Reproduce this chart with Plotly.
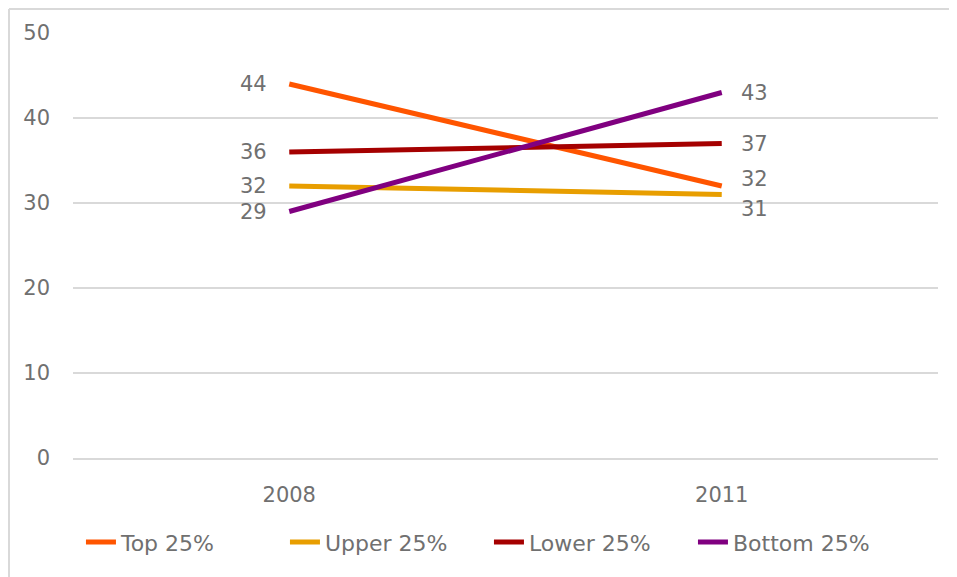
import plotly.graph_objects as go

years = ["2008", "2011"]
series_names = ["Top 25%", "Upper 25%", "Lower 25%", "Bottom 25%"]
top_vals = [44, 32]
upper_vals = [32, 31]
lower_vals = [36, 37]
bottom_vals = [29, 43]
y_ticks = [0, 10, 20, 30, 40, 50]

colors = ["#FF5500", "#E89E00", "#A50000", "#800080"]
all_vals = [top_vals, upper_vals, lower_vals, bottom_vals]
# label vertical nudges (px) at 2011 to avoid overlap
shift_2011 = [7, -14, 0, 0]

FONT = "DejaVu Sans"
GREY = "#707070"

fig = go.Figure()
for name, vals, col in zip(series_names, all_vals, colors):
    fig.add_trace(go.Scatter(
        x=years, y=vals, name=name, mode="lines",
        line=dict(color=col, width=5),
        hoverinfo="skip",
    ))

annotations = []
for i, vals in enumerate(all_vals):
    annotations.append(dict(
        x=0, y=vals[0], xref="x", yref="y", text=str(vals[0]),
        showarrow=False, xanchor="right", yanchor="middle", xshift=-20,
        font=dict(family=FONT, size=21, color=GREY)))
    annotations.append(dict(
        x=1, y=vals[1], xref="x", yref="y", text=str(vals[1]),
        showarrow=False, xanchor="left", yanchor="middle", xshift=17,
        yshift=shift_2011[i],
        font=dict(family=FONT, size=21, color=GREY)))

border = dict(color="#D9D9D9", width=2)
fig.update_layout(
    width=949, height=569,
    margin=dict(l=65, r=19, t=25, b=119),
    paper_bgcolor="white", plot_bgcolor="white",
    font=dict(family=FONT, size=20, color=GREY),
    xaxis=dict(type="category", range=[-0.5, 1.5], showgrid=False,
               zeroline=False, showline=True, linecolor="#D9D9D9",
               linewidth=1.5, ticks="",
               tickfont=dict(size=21, color=GREY), ticklabelstandoff=17),
    yaxis=dict(range=[0, 50], tickvals=y_ticks, showgrid=True,
               gridcolor="#D9D9D9", gridwidth=1.5, zeroline=False,
               showline=False, ticks="", tickfont=dict(size=21, color=GREY),
               ticklabelstandoff=22),
    legend=dict(orientation="h", x=0.0092, xanchor="left", y=-0.198,
                yanchor="middle", font=dict(size=22, color=GREY),
                entrywidth=159, entrywidthmode="pixels",
                tracegroupgap=0, bgcolor="rgba(0,0,0,0)"),
    annotations=annotations,
    shapes=[
        dict(type="line", xref="paper", yref="paper",
             x0=-0.074, x1=-0.074, y0=-0.4, y1=1.0565, line=border,
             layer="below"),
        dict(type="line", xref="paper", yref="paper",
             x0=-0.074, x1=1.1, y0=1.0565, y1=1.0565, line=border,
             layer="below"),
    ],
    showlegend=True,
)

fig.write_html("out.html")
